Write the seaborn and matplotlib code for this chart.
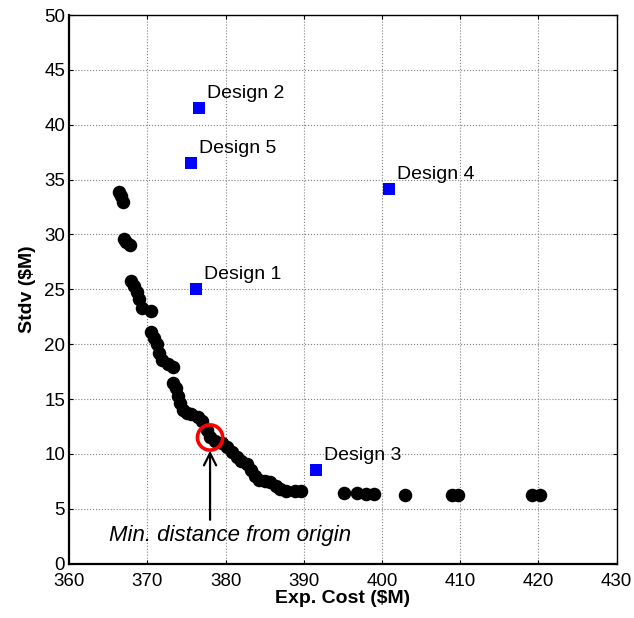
import matplotlib
matplotlib.use("Agg")
import matplotlib.pyplot as plt
import pandas as pd
import seaborn as sns

# pareto front (expected cost vs. standard deviation), $M
pareto_cost = [366.3, 366.6, 366.9, 367.0, 367.3, 367.7, 367.9, 368.3, 368.6, 368.9,
               369.3, 370.5, 370.5, 370.8, 371.2, 371.5, 371.9, 372.6, 373.2, 373.2,
               373.6, 373.9, 374.2, 374.5, 375.0, 375.6, 376.4, 377.0, 377.6, 378.0,
               378.6, 379.5, 380.2, 380.8, 381.4, 382.0, 382.7, 383.2, 383.7, 384.3,
               385.0, 385.7, 386.4, 387.0, 387.7, 388.8, 389.6, 395.1, 396.8, 397.9,
               399.0, 402.9, 409.0, 409.7, 419.2, 420.2]
pareto_stdv = [33.9, 33.5, 33.0, 29.6, 29.3, 29.0, 25.8, 25.3, 24.8, 24.1,
               23.3, 23.0, 21.1, 20.6, 20.0, 19.2, 18.6, 18.2, 17.9, 16.5,
               16.0, 15.3, 14.6, 14.0, 13.7, 13.6, 13.4, 13.0, 12.2, 11.5,
               11.2, 11.0, 10.6, 10.2, 9.7, 9.4, 9.1, 8.5, 8.0, 7.6,
               7.5, 7.4, 7.1, 6.8, 6.6, 6.6, 6.6, 6.45, 6.45, 6.35,
               6.35, 6.3, 6.3, 6.3, 6.3, 6.3]

design_names = ["Design 1", "Design 2", "Design 3", "Design 4", "Design 5"]
design_cost = [376.2, 376.6, 391.6, 400.9, 375.6]
design_stdv = [25.0, 41.5, 8.5, 34.1, 36.5]

best_cost = 378.0
best_stdv = 11.5

pareto = pd.DataFrame({"cost": pareto_cost, "stdv": pareto_stdv})
designs = pd.DataFrame({"name": design_names, "cost": design_cost, "stdv": design_stdv})

sns.set_style("ticks")
plt.rcParams["font.family"] = ["Liberation Sans", "DejaVu Sans"]
plt.rcParams["text.color"] = "black"
plt.rcParams["axes.labelcolor"] = "black"
plt.rcParams["xtick.color"] = "black"
plt.rcParams["ytick.color"] = "black"
plt.rcParams["axes.edgecolor"] = "black"

fig = plt.figure(figsize=(6.34, 6.18), dpi=100)
ax = fig.add_axes([0.1093, 0.0879, 0.8634, 0.8878])

sns.scatterplot(data=pareto, x="cost", y="stdv", ax=ax, color="black",
                s=95, edgecolor="black", linewidth=0, zorder=3)
sns.scatterplot(data=designs, x="cost", y="stdv", ax=ax, color="#0000ff",
                marker="s", s=80, edgecolor="#0000ff", linewidth=0, zorder=4)
ax.scatter([best_cost], [best_stdv], s=330, facecolors="none",
           edgecolors="#ff0000", linewidths=2.6, zorder=5)

for name, x, y in zip(design_names, design_cost, design_stdv):
    ax.text(x + 1.0, y + 0.95, name, fontsize=14, ha="left", va="baseline")

ax.annotate("", xy=(best_cost, 10.3), xytext=(best_cost, 4.0),
            arrowprops=dict(arrowstyle="->", color="black", lw=1.6,
                            mutation_scale=22, shrinkA=0, shrinkB=0))
ax.text(380.5, 2.55, "Min. distance from origin", fontsize=16,
        style="italic", ha="center", va="center")

ax.set_xlim(360, 430)
ax.set_ylim(0, 50)
ax.set_xticks(range(360, 431, 10))
ax.set_yticks(range(0, 51, 5))
ax.grid(True, color="#808080", linestyle=":", linewidth=0.8)
ax.set_axisbelow(True)
ax.tick_params(direction="in", length=3, labelsize=13.5, top=True, right=True)
ax.tick_params(axis="x", pad=7)
ax.tick_params(axis="y", pad=3)
for side in ["left", "bottom"]:
    ax.spines[side].set_linewidth(1.6)
for side in ["top", "right"]:
    ax.spines[side].set_linewidth(1.0)

ax.set_xlabel("Exp. Cost ($M)", fontsize=14, fontweight="bold", labelpad=0)
ax.set_ylabel("Stdv ($M)", fontsize=14, fontweight="bold", labelpad=6)

fig.savefig("out.png", dpi=100)
